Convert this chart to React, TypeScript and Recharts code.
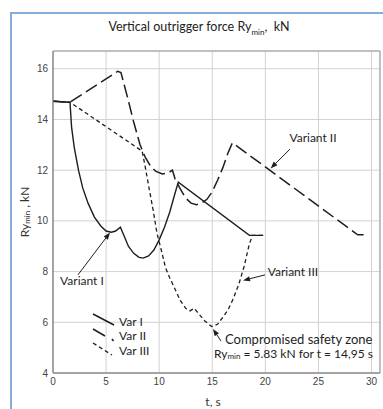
import React from 'react';
import { LineChart, Line, XAxis, YAxis, CartesianGrid, ReferenceLine, ReferenceDot, ReferenceArea } from 'recharts';

// time, s and Ry_min, kN
const T_VAR1 = [0, 1.6, 1.75, 2.0, 2.4, 2.8, 3.3, 3.9, 4.5, 5.0, 5.5, 5.9, 6.35, 6.7, 7.1, 7.6, 8.1, 8.5, 9.0, 9.5, 10.0, 10.5, 11.0, 11.5, 11.8, 18.5, 19.8];
const RY_VAR1 = [14.72, 14.68, 13.7, 12.9, 12.0, 11.3, 10.7, 10.15, 9.8, 9.6, 9.55, 9.6, 9.75, 9.4, 9.0, 8.72, 8.56, 8.53, 8.62, 8.85, 9.25, 9.75, 10.35, 11.1, 11.53, 9.43, 9.43];

const T_VAR2 = [0, 1.6, 6.1, 6.4, 7.0, 7.6, 8.2, 8.7, 9.2, 9.7, 10.3, 10.8, 11.25, 11.5, 12.0, 12.5, 13.0, 13.5, 14.0, 14.5, 15.0, 15.5, 16.0, 16.5, 16.9, 28.7, 29.5];
const RY_VAR2 = [14.72, 14.68, 15.9, 15.85, 14.9, 13.9, 13.0, 12.5, 12.15, 11.95, 11.85, 11.88, 12.0, 11.65, 11.25, 10.9, 10.7, 10.64, 10.7, 10.85, 11.15, 11.6, 12.1, 12.7, 13.08, 9.45, 9.45];

const T_VAR3 = [0, 1.6, 8.4, 8.7, 9.0, 9.4, 9.8, 10.2, 10.6, 11.0, 11.5, 12.0, 12.5, 12.9, 13.3, 13.7, 14.3, 14.95, 15.5, 16.0, 16.5, 17.0, 17.5, 18.0, 18.5, 18.8, 19.8];
const RY_VAR3 = [14.72, 14.68, 12.75, 12.1, 11.4, 10.5, 9.5, 8.85, 8.15, 7.75, 7.3, 6.85, 6.55, 6.45, 6.55, 6.35, 6.05, 5.83, 5.92, 6.2, 6.5, 6.95, 7.5, 8.2, 9.1, 9.43, 9.43];

const X_TICKS = [0, 5, 10, 15, 20, 25, 30];
const X_MINOR = [0, 1, 2, 3, 4, 5, 6, 7, 8, 9, 10, 11, 12, 13, 14, 15, 16, 17, 18, 19, 20, 21, 22, 23, 24, 25, 26, 27, 28, 29, 30];
const Y_TICKS = [4, 6, 8, 10, 12, 14, 16];

const zip = (t: number[], v: number[]) => t.map((x, i) => ({ t: x, v: v[i] }));

const INK = '#1e1e1e';
const TEXT_FONT = 'Lato, "Open Sans", sans-serif';

const Arrow = (props: any) => {
  const { x1, y1, x2, y2 } = props;
  const a = Math.atan2(y2 - y1, x2 - x1);
  const len = 7;
  const w = 2.6;
  const bx = x2 - len * Math.cos(a);
  const by = y2 - len * Math.sin(a);
  const px = -Math.sin(a) * w;
  const py = Math.cos(a) * w;
  return (
    <g>
      <line x1={x1} y1={y1} x2={bx} y2={by} stroke={INK} strokeWidth={1} />
      <polygon points={`${x2},${y2} ${bx + px},${by + py} ${bx - px},${by - py}`} fill={INK} />
    </g>
  );
};

const note = (content: React.ReactNode, anchor: 'start' | 'middle' = 'middle', size = 12) => (p: any) => (
  <text x={p.cx} y={p.cy} textAnchor={anchor} dominantBaseline="central" fontFamily={TEXT_FONT} fontSize={size} fill={INK}>
    {content}
  </text>
);

const YLabel = (props: any) => {
  const vb = props.viewBox || { x: 13, y: 51, width: 40, height: 322 };
  const cx = 24;
  const cy = vb.y + vb.height / 2;
  return (
    <text x={cx} y={cy} transform={`rotate(-90 ${cx} ${cy})`} textAnchor="middle" dominantBaseline="central" fontFamily={TEXT_FONT} fontSize={12} fill="#333">
      <tspan>Ry</tspan>
      <tspan dy={3} fontSize={8}>min</tspan>
      <tspan dy={-3}> , kN</tspan>
    </text>
  );
};

const XLabel = (props: any) => {
  const vb = props.viewBox || { x: 53, y: 373, width: 327, height: 36 };
  return (
    <text x={213} y={vb.y + 28} textAnchor="middle" dominantBaseline="central" fontFamily={TEXT_FONT} fontSize={12} fill="#333">
      t, s
    </text>
  );
};

const tickStyle = { fill: '#444', fontSize: 10, fontFamily: '"Liberation Sans", Arial, sans-serif' };

export default function App() {
  return (
    <div style={{ position: 'absolute', left: 0, top: 0, width: 383, height: 409, overflow: 'hidden', background: '#fff' }}>
      <div style={{ position: 'absolute', left: 10, top: 12, width: 420, height: 440, borderLeft: '2px solid #86acd9', borderTop: '2px solid #86acd9' }} />
      <div style={{ position: 'absolute', left: 0, top: 19, width: 398, textAlign: 'center', fontFamily: TEXT_FONT, fontSize: 12.5, color: '#222' }}>
        Vertical outrigger force Ry<sub style={{ fontSize: 8 }}>min</sub>,&nbsp; kN
      </div>
      <LineChart width={383} height={409} margin={{ top: 51, right: 3, left: 13, bottom: 0 }} style={{ position: 'absolute', left: 0, top: 0 }}>
        <CartesianGrid stroke="#d2d2d2" strokeWidth={1} />
        <XAxis xAxisId="minorTop" orientation="top" type="number" dataKey="t" domain={[0, 30.8]} ticks={X_MINOR} height={0} mirror tickSize={3} tickFormatter={() => ''} axisLine={false} tickLine={{ stroke: '#888' }} />
        <XAxis xAxisId="minorBot" orientation="bottom" type="number" dataKey="t" domain={[0, 30.8]} ticks={X_MINOR} height={0} mirror tickSize={3} tickFormatter={() => ''} axisLine={false} tickLine={{ stroke: '#888' }} />
        <XAxis type="number" dataKey="t" domain={[0, 30.8]} ticks={X_TICKS} height={36} tickSize={3} tickMargin={2} tickLine={false} axisLine={{ stroke: '#888' }} tick={tickStyle} label={<XLabel />} />
        <YAxis type="number" domain={[4, 16.7]} ticks={Y_TICKS} width={40} tickSize={2} tickMargin={3} tickLine={false} axisLine={{ stroke: '#888' }} tick={tickStyle} label={<YLabel />} />
        <ReferenceArea x1={0} x2={30.8} y1={4} y2={16.7} fill="none" stroke="#999" strokeWidth={1} />

        <Line data={zip(T_VAR1, RY_VAR1)} dataKey="v" type="linear" stroke={INK} strokeWidth={1.4} dot={false} isAnimationActive={false} />
        <Line data={zip(T_VAR2, RY_VAR2)} dataKey="v" type="linear" stroke={INK} strokeWidth={1.5} strokeDasharray="13 5" dot={false} isAnimationActive={false} />
        <Line data={zip(T_VAR3, RY_VAR3)} dataKey="v" type="linear" stroke={INK} strokeWidth={1.3} strokeDasharray="4 3" dot={false} isAnimationActive={false} />

        <ReferenceLine segment={[{ x: 2.35, y: 7.87 }, { x: 5.37, y: 9.54 }]} shape={Arrow} />
        <ReferenceLine segment={[{ x: 22.32, y: 12.83 }, { x: 20.5, y: 12.07 }]} shape={Arrow} />
        <ReferenceLine segment={[{ x: 19.97, y: 7.87 }, { x: 17.9, y: 7.65 }]} shape={Arrow} />
        <ReferenceLine segment={[{ x: 15.82, y: 5.26 }, { x: 15.07, y: 5.74 }]} shape={Arrow} />

        <ReferenceDot x={2.73} y={7.63} r={0} shape={note('Variant I')} />
        <ReferenceDot x={24.49} y={13.27} r={0} shape={note('Variant II')} />
        <ReferenceDot x={22.6} y={8.02} r={0} shape={note('Variant III')} />
        <ReferenceDot x={16.2} y={5.34} r={0} shape={note('Compromised safety zone', 'start', 13)} />
        <ReferenceDot
          x={15.16}
          y={4.79}
          r={0}
          shape={note(
            <>
              <tspan>Ry</tspan>
              <tspan dy={3} fontSize={8}>min</tspan>
              <tspan dy={-3}> = 5.83 kN for t = 14,95 s</tspan>
            </>,
            'start'
          )}
        />
      </LineChart>
      <svg width={80} height={56} style={{ position: 'absolute', left: 88, top: 306 }}>
        <line x1={5} y1={8} x2={26} y2={19} stroke={INK} strokeWidth={1.5} />
        <line x1={5} y1={23} x2={17} y2={30} stroke={INK} strokeWidth={1.5} />
        <line x1={24} y1={33} x2={25.5} y2={35} stroke={INK} strokeWidth={1.5} />
        <line x1={5} y1={37} x2={24} y2={49} stroke={INK} strokeWidth={1.3} strokeDasharray="4 3" />
        <g fontFamily={TEXT_FONT} fontSize={12} fill={INK} dominantBaseline="central">
          <text x={31} y={15}>Var I</text>
          <text x={31} y={29}>Var II</text>
          <text x={31} y={44}>Var III</text>
        </g>
      </svg>
    </div>
  );
}
